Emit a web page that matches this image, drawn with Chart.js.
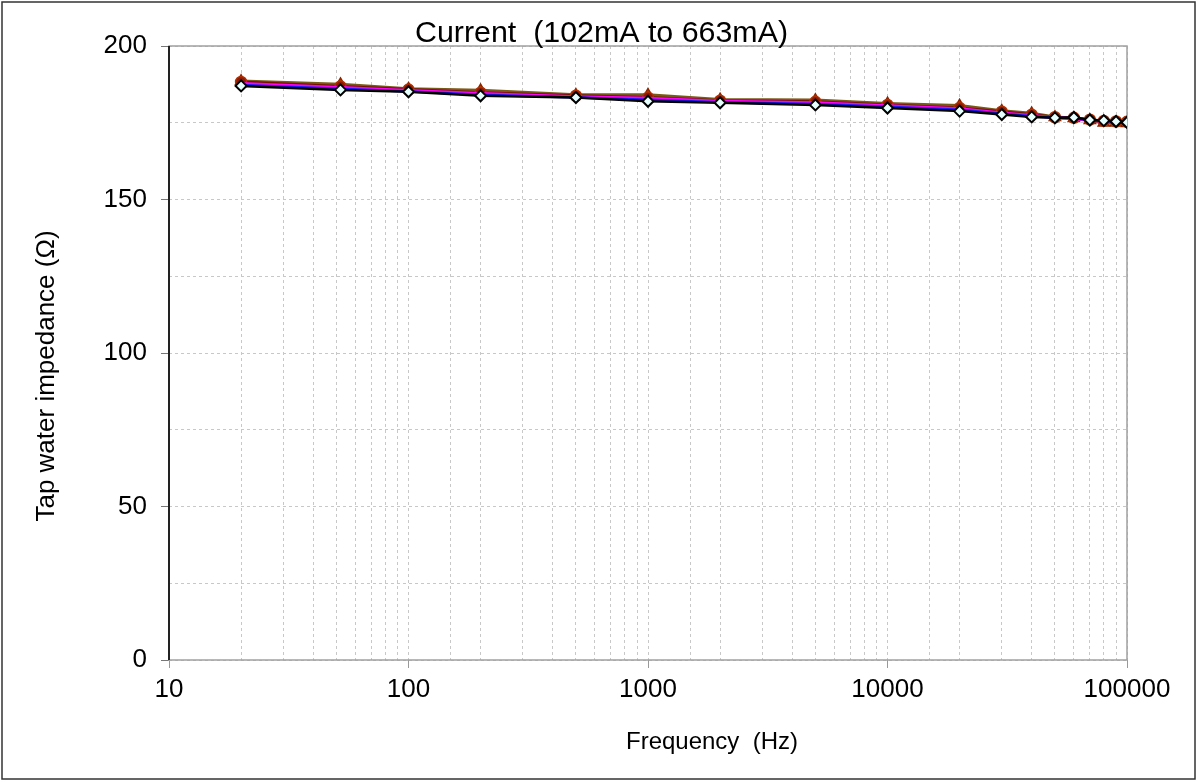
<!DOCTYPE html>
<html>
<head>
<meta charset="utf-8">
<script src="https://cdn.jsdelivr.net/npm/chart.js@4"></script>
<style>
  body { margin: 0; background: #fff; }
  canvas { display: block; }
</style>
</head>
<body>
<canvas id="mainChart" width="1198" height="782"></canvas>
<script>
// Data
const freqs = [20, 52, 100, 200, 500, 1000, 2000, 5000, 10000, 20000, 30000, 40000, 50000, 60000, 70000, 80000, 90000, 100000];
const seriesTri = [188.5, 187.5, 186.0, 185.5, 184.0, 184.0, 182.5, 182.3, 181.2, 180.5, 178.8, 178.0, 176.8, 176.5, 175.8, 175.0, 175.0, 174.8];
const seriesCircle = [188.3, 186.8, 185.8, 184.8, 183.8, 183.2, 182.2, 181.8, 180.8, 179.8, 178.6, 177.6, 176.8, 176.6, 176.0, 175.6, 175.4, 175.3];
const seriesMagenta = [187.8, 186.5, 185.5, 184.5, 183.5, 183.0, 182.0, 181.5, 180.5, 179.6, 178.2, 177.4, 176.6, 176.4, 175.8, 175.5, 175.3, 175.1];
const seriesBlue = [187.3, 186.1, 185.2, 184.1, 183.2, 182.5, 181.7, 181.1, 180.2, 179.2, 177.9, 177.1, 176.6, 176.5, 175.9, 175.6, 175.3, 175.0];
const seriesDiamond = [187.0, 185.7, 185.1, 183.8, 183.2, 182.0, 181.5, 180.8, 179.8, 178.8, 177.7, 176.9, 176.6, 176.7, 175.9, 175.7, 175.4, 175.1];
const xTickLabels = [10, 100, 1000, 10000, 100000];
const yTickLabels = [0, 50, 100, 150, 200];
const chartTitle = 'Current  (102mA to 663mA)';
const xTitle = 'Frequency  (Hz)';
const yTitle = 'Tap water impedance (\u03A9)';

const pts = vals => freqs.map((f, i) => ({ x: f, y: vals[i] }));
const FONT = '"Liberation Sans", Arial, sans-serif';

// title, axis titles, frame and outer border
const decor = {
  id: 'decor',
  beforeDatasetsDraw(chart) {
    const { ctx, chartArea: a } = chart;
    ctx.save();
    ctx.strokeStyle = '#a0a0a0';
    ctx.lineWidth = 1.5;
    ctx.strokeRect(a.left, a.top, a.right - a.left, a.bottom - a.top);
    ctx.strokeStyle = '#222';
    ctx.lineWidth = 2;
    ctx.beginPath();
    ctx.moveTo(a.left, a.top);
    ctx.lineTo(a.left, a.bottom);
    ctx.stroke();
    ctx.restore();
  },
  afterDraw(chart) {
    const { ctx } = chart;
    ctx.save();
    ctx.fillStyle = '#000';
    // title
    ctx.font = '30px ' + FONT;
    ctx.textAlign = 'left';
    ctx.textBaseline = 'alphabetic';
    const w = ctx.measureText(chartTitle).width;
    ctx.save();
    ctx.translate(415, 42);
    ctx.scale(373 / w, 1);
    ctx.fillText(chartTitle, 0, 0);
    ctx.restore();
    // axis titles
    ctx.font = '24px ' + FONT;
    ctx.textAlign = 'center';
    ctx.textBaseline = 'middle';
    ctx.fillText(xTitle, 712, 742);
    ctx.font = '26px ' + FONT;
    ctx.save();
    ctx.translate(47, 376);
    ctx.rotate(-Math.PI / 2);
    ctx.fillText(yTitle, 0, 0);
    ctx.restore();
    // outer border
    ctx.strokeStyle = '#333';
    ctx.lineWidth = 1.5;
    ctx.strokeRect(2, 2, 1193, 777);
    ctx.restore();
  }
};

const ctx = document.getElementById('mainChart').getContext('2d');
new Chart(ctx, {
  type: 'line',
  data: {
    datasets: [
      { label: 'Series 5', data: pts(seriesDiamond), borderColor: '#000', borderWidth: 2.5,
        pointStyle: 'rectRot', pointRadius: 5.5, pointBackgroundColor: '#e6ffff', pointBorderColor: '#000', pointBorderWidth: 2 },
      { label: 'Series 4', data: pts(seriesBlue), borderColor: '#1a1aff', borderWidth: 2.5, pointRadius: 0 },
      { label: 'Series 3', data: pts(seriesMagenta), borderColor: '#ff00ff', borderWidth: 3, pointRadius: 0 },
      { label: 'Series 2', data: pts(seriesCircle), borderColor: '#7a1000', borderWidth: 3,
        pointStyle: 'circle', pointRadius: 5.5, pointBackgroundColor: '#8b1a00', pointBorderColor: '#b03000', pointBorderWidth: 1.5 },
      { label: 'Series 1', data: pts(seriesTri), borderColor: '#7a5a18', borderWidth: 3.5,
        pointStyle: 'triangle', pointRadius: 6.5, pointBackgroundColor: '#c04a00', pointBorderColor: '#8b2500', pointBorderWidth: 1.5 }
    ]
  },
  options: {
    responsive: false,
    animation: false,
    layout: { padding: { left: 0, top: 46, right: 71, bottom: 0 } },
    plugins: { legend: { display: false }, tooltip: { enabled: false } },
    elements: { line: { tension: 0 } },
    scales: {
      x: {
        type: 'logarithmic',
        min: 10, max: 100000,
        afterFit: s => { s.height = 122; },
        border: { display: false, dash: [3, 3] },
        grid: {
          color: '#c8c8c8', lineWidth: 1, tickLength: 8,
          tickColor: c => xTickLabels.includes(c.tick.value) ? '#999' : 'rgba(0,0,0,0)'
        },
        ticks: {
          autoSkip: false, maxRotation: 0, padding: 6, color: '#000',
          font: { family: FONT, size: 26 },
          callback: v => xTickLabels.includes(v) ? String(v) : ''
        }
      },
      y: {
        min: 0, max: 200,
        afterFit: s => { s.width = 169; },
        border: { display: false, dash: [3, 3] },
        grid: {
          color: '#c8c8c8', lineWidth: 1, tickLength: 8,
          tickColor: c => yTickLabels.includes(c.tick.value) ? '#777' : 'rgba(0,0,0,0)'
        },
        ticks: {
          stepSize: 25, padding: 14, color: '#000',
          font: { family: FONT, size: 26 },
          callback: v => yTickLabels.includes(v) ? String(v) : ''
        }
      }
    }
  },
  plugins: [decor]
});
</script>
</body>
</html>
